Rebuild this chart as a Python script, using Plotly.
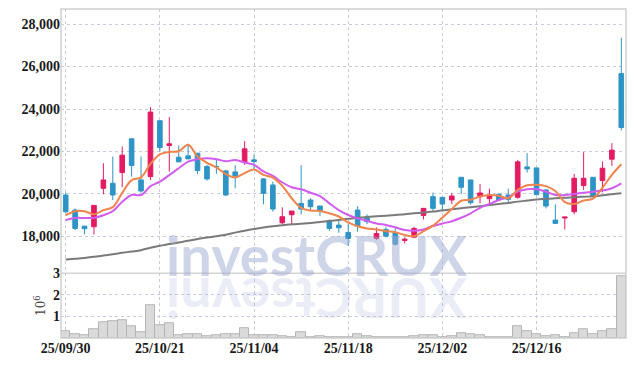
import plotly.graph_objects as go

dates = ["25/09/30","25/10/01","25/10/02","25/10/10","25/10/13","25/10/14","25/10/15","25/10/16","25/10/17","25/10/20",
         "25/10/21","25/10/22","25/10/23","25/10/24","25/10/27","25/10/28","25/10/29","25/10/30","25/10/31","25/11/03",
         "25/11/04","25/11/05","25/11/06","25/11/07","25/11/10","25/11/11","25/11/12","25/11/13","25/11/14","25/11/17",
         "25/11/18","25/11/19","25/11/20","25/11/21","25/11/24","25/11/25","25/11/26","25/11/27","25/11/28","25/12/01",
         "25/12/02","25/12/03","25/12/04","25/12/05","25/12/08","25/12/09","25/12/10","25/12/11","25/12/12","25/12/15",
         "25/12/16","25/12/17","25/12/18","25/12/19","25/12/22","25/12/23","25/12/24","25/12/26","25/12/29","25/12/30"]

open_ = [19952,19244,18488,18456,20268,20504,21008,22598,20661,20819,
         23449,22283,21732,21795,21921,21291,21300,21087,21039,21496,
         21606,20709,20425,18645,19023,19559,19716,19433,18740,18535,
         18189,19244,18897,17906,18330,18189,17811,17968,18992,19874,
         19842,19716,20787,20661,19874,19779,19984,19952,19842,21276,
         21228,20189,18771,18866,19165,20394,20787,20630,21638,25669]
high = [20078,19320,18488,19464,21449,21763,22236,22630,21763,24094,
        23449,23622,22283,22362,21921,21370,21606,21134,21354,22488,
        21843,20740,20583,19370,19196,21354,19795,19433,18803,18740,
        18614,19433,19039,18425,18456,18425,17952,18456,19323,20063,
        19842,20031,20787,20661,20472,20252,20031,20252,21606,21921,
        21228,20220,19512,18913,20945,21968,20787,21528,22394,27357]
low = [19100,18300,18094,18094,19984,19716,20315,20819,20063,20661,
       22000,21055,21512,21653,20945,20630,20945,19920,20268,21370,
       21134,19512,19165,18582,18535,19039,19212,18960,18267,18173,
       17559,18220,18582,17826,17952,17574,17669,17920,18803,19165,
       19165,19527,19984,19496,19559,19527,19716,19559,19779,21008,
       19968,19323,18614,18330,19039,20189,19874,20079,21323,22988]
close = [19165,18377,18362,19464,20661,19952,21827,21339,20142,23858,
         22189,22362,21512,21653,21102,20709,21280,19952,20850,22126,
         21528,20031,19291,18929,19196,19291,19401,19196,18377,18409,
         17906,18488,18693,18141,18015,17637,17874,18377,19323,19323,
         19527,19905,20315,19590,20047,19905,19716,19748,21512,21181,
         19968,19433,18614,18913,20740,20740,19874,21213,22063,23130]

ma5 = [19000,19190,19190,19040,19240,19380,20050,20650,20780,21420,
       21870,21980,22010,22320,21760,21470,21250,20940,20780,20980,
       21150,20900,20770,20380,19800,19350,19220,19200,19090,18940,
       18660,18480,18380,18330,18250,18200,18070,18010,18250,18510,
       18890,19290,19680,19730,19880,19950,19920,19800,20190,20410,
       20430,20370,20140,19620,19530,19690,19780,20300,20900,21400]
ma20 = [18770,18870,18870,18880,19000,19190,19630,19950,19950,20370,
        20580,20890,21210,21520,21640,21685,21640,21540,21600,21480,
        21370,21060,20850,20540,20320,20220,20060,19900,19560,19240,
        19010,18850,18740,18610,18540,18430,18300,18270,18330,18490,
        18610,18720,18880,19090,19350,19530,19720,19840,20110,20220,
        20220,20110,19950,19950,20000,20060,20110,20160,20270,20500]
ma_long = [16913,16950,16990,17040,17100,17160,17228,17290,17354,17470,
           17560,17640,17720,17795,17880,17950,18010,18080,18180,18270,
           18350,18420,18480,18530,18570,18600,18630,18680,18730,18780,
           18830,18880,18920,18950,18980,19010,19050,19090,19130,19170,
           19230,19280,19330,19380,19420,19480,19530,19580,19640,19690,
           19740,19770,19800,19820,19850,19870,19890,19940,19990,20030]

volume_millions = [0.32,0.19,0.13,0.39,0.73,0.77,0.82,0.53,0.26,1.50,
                   0.58,0.68,0.15,0.19,0.19,0.10,0.15,0.19,0.19,0.47,
                   0.15,0.15,0.13,0.08,0.03,0.29,0.05,0.08,0.05,0.03,
                   0.06,0.19,0.10,0.05,0.05,0.03,0.02,0.08,0.15,0.15,
                   0.06,0.10,0.24,0.16,0.11,0.06,0.03,0.05,0.53,0.31,
                   0.16,0.10,0.13,0.05,0.24,0.39,0.16,0.31,0.40,2.85]

price_ticks = [18000, 20000, 22000, 24000, 26000, 28000]
volume_ticks = [1, 2, 3]
date_ticks = ["25/09/30", "25/10/21", "25/11/04", "25/11/18", "25/12/02", "25/12/16"]

UP = "#E31B63"
DOWN = "#2E94C6"
FONT = "Liberation Sans Narrow"
GRID = "#c9cbdc"
TICKFONT = dict(family=FONT, size=14, color="#1a1a1a", weight="bold")

fig = go.Figure()

fig.add_trace(go.Bar(
    x=dates, y=volume_millions, xaxis="x", yaxis="y2",
    marker=dict(color="#dadada", line=dict(color="#b5b5b5", width=1)),
    showlegend=False, hoverinfo="skip"))

fig.add_trace(go.Scatter(x=dates, y=ma_long, mode="lines", line=dict(color="#7a7a7a", width=2, shape="spline"),
                         yaxis="y", showlegend=False, hoverinfo="skip"))
fig.add_trace(go.Scatter(x=dates, y=ma20, mode="lines", line=dict(color="#D25BF0", width=2, shape="spline"),
                         yaxis="y", showlegend=False, hoverinfo="skip"))
fig.add_trace(go.Scatter(x=dates, y=ma5, mode="lines", line=dict(color="#F0844C", width=2, shape="spline"),
                         yaxis="y", showlegend=False, hoverinfo="skip"))

fig.add_trace(go.Candlestick(
    x=dates, open=open_, high=high, low=low, close=close, yaxis="y",
    increasing=dict(line=dict(color=UP, width=1), fillcolor=UP),
    decreasing=dict(line=dict(color=DOWN, width=1), fillcolor=DOWN),
    whiskerwidth=0, showlegend=False))

vol_top = (337.5 - 272.7) / 329.0

fig.update_layout(
    width=634, height=366,
    margin=dict(l=61, r=8, t=9, b=28, autoexpand=False),
    paper_bgcolor="white", plot_bgcolor="white",
    bargap=0,
    font=dict(family=FONT, size=14, color="#222"),
    xaxis=dict(type="category", anchor="y2", rangeslider=dict(visible=False),
               range=[-0.5, len(dates) - 0.5], automargin=False,
               tickmode="array", tickvals=date_ticks, ticktext=date_ticks,
               showgrid=True, gridcolor=GRID, griddash="dot", gridwidth=1,
               ticks="", tickfont=TICKFONT,
               showline=False, zeroline=False),
    yaxis=dict(domain=[vol_top, 1], range=[16270, 28710], tickvals=price_ticks,
               tickformat=",", showgrid=True, gridcolor=GRID, griddash="dot",
               ticks="", tickfont=TICKFONT, automargin=False,
               zeroline=False, anchor="x"),
    yaxis2=dict(domain=[0, vol_top], range=[0, 3.0], tickvals=volume_ticks,
                showgrid=True, gridcolor=GRID, griddash="dot",
                ticks="", tickfont=TICKFONT, automargin=False,
                zeroline=False, anchor="x",
                title=dict(text="10<sup>6</sup>", font=dict(family="DejaVu Serif", size=12, color="#444"), standoff=4)),
    shapes=[
        dict(type="rect", xref="paper", yref="paper", x0=0, x1=1, y0=0, y1=1,
             line=dict(color="#cfcfcf", width=1.5), layer="above"),
        dict(type="line", xref="paper", yref="paper", x0=0, x1=1, y0=vol_top, y1=vol_top,
             line=dict(color="#d4d4d4", width=1.5), layer="below"),
    ],
    annotations=[
        dict(text="<b>investCRUX</b>", xref="paper", yref="paper", x=0.452, y=vol_top + 0.058,
             xanchor="center", yanchor="middle", showarrow=False,
             font=dict(family="Lato", size=56, color="rgba(160,172,212,0.5)")),
        dict(text="<b>XURCtsevni</b>", xref="paper", yref="paper", x=0.452, y=vol_top - 0.078,
             xanchor="center", yanchor="middle", showarrow=False, textangle=180,
             font=dict(family="Lato", size=56, color="rgba(160,172,212,0.22)")),
    ],
)

fig.write_html("out.html", config={"displayModeBar": False},
               post_script="document.body.style.margin='0';document.body.style.padding='0';")
